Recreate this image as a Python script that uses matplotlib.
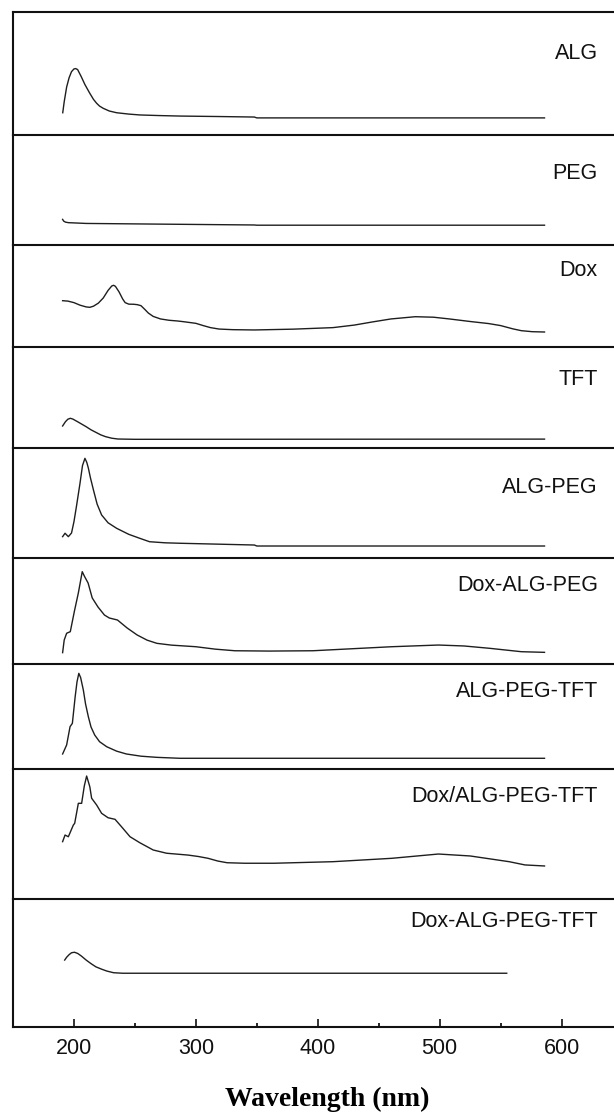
import numpy as np
import matplotlib.pyplot as plt
from matplotlib.ticker import MultipleLocator

plt.rcParams["font.family"] = ["Liberation Sans", "DejaVu Sans"]

# UV-vis spectra; absorbance given in panel units (0 = panel bottom, 1 = panel top)
alg_wl = [190.8, 192, 194, 196, 198, 200, 201.4, 203, 206, 209, 213, 216, 218.6, 221, 224,
          229, 235, 245, 254, 270, 287, 320, 348, 350, 586]
alg_abs = [0.181, 0.27, 0.39, 0.465, 0.515, 0.537, 0.54, 0.532, 0.474, 0.41, 0.339, 0.29,
           0.258, 0.235, 0.217, 0.195, 0.181, 0.17, 0.163, 0.158, 0.154, 0.15, 0.146, 0.139,
           0.139]

peg_wl = [190.7, 191.5, 193, 195.5, 210, 268, 348, 350, 586]
peg_abs = [0.233, 0.218, 0.208, 0.203, 0.196, 0.19, 0.182, 0.18, 0.18]

dox_wl = [190.7, 195, 200, 205, 210, 213, 216, 220, 224, 228, 231, 232.5, 234, 237, 240,
          242, 245, 249, 252, 255, 258, 261, 265, 271, 278, 285, 290, 295, 300, 306, 312,
          319, 330, 348, 380, 412.5, 430, 444.5, 460, 480, 495, 508, 525, 540, 550, 560,
          567, 576, 586]
dox_abs = [0.454, 0.45, 0.435, 0.41, 0.393, 0.389, 0.4, 0.43, 0.48, 0.555, 0.598, 0.605,
           0.595, 0.54, 0.47, 0.435, 0.42, 0.419, 0.415, 0.405, 0.37, 0.333, 0.3, 0.275,
           0.262, 0.255, 0.248, 0.24, 0.232, 0.21, 0.19, 0.176, 0.17, 0.167, 0.175, 0.19,
           0.215, 0.245, 0.275, 0.297, 0.292, 0.275, 0.25, 0.23, 0.21, 0.178, 0.16, 0.15,
           0.147]

tft_wl = [190.7, 193, 195, 197, 199, 203, 207, 210, 214, 218, 222, 226, 231, 236, 250, 586]
tft_abs = [0.218, 0.26, 0.285, 0.294, 0.287, 0.26, 0.232, 0.211, 0.18, 0.155, 0.13, 0.112,
           0.097, 0.089, 0.086, 0.088]

algpeg_wl = [190.7, 192.7, 195.4, 198, 200, 202, 205, 207, 209, 210.5, 211.8, 213.5, 216,
             219, 222.7, 228, 235, 245, 254, 262, 275, 287, 348, 350, 586]
algpeg_abs = [0.194, 0.225, 0.194, 0.227, 0.33, 0.466, 0.682, 0.84, 0.906, 0.87, 0.818,
              0.73, 0.618, 0.49, 0.391, 0.32, 0.27, 0.215, 0.179, 0.148, 0.138, 0.134,
              0.118, 0.109, 0.109]

doxalgpeg_wl = [190.7, 192, 194, 197, 200.4, 203.6, 206.8, 208.5, 211.6, 215, 219.7, 225,
                229, 235.7, 243.6, 251.8, 260, 268, 280, 300, 316, 332, 360, 396, 430,
                460.7, 499, 520, 541, 567, 586]
doxalgpeg_abs = [0.107, 0.226, 0.29, 0.305, 0.5, 0.67, 0.871, 0.83, 0.764, 0.623, 0.538,
                 0.462, 0.434, 0.415, 0.34, 0.274, 0.225, 0.195, 0.178, 0.163, 0.14, 0.125,
                 0.122, 0.125, 0.145, 0.163, 0.179, 0.17, 0.148, 0.116, 0.11]

algpegtft_wl = [190.7, 194, 196.8, 198.7, 201, 202.5, 204, 205.5, 207.7, 209.5, 211.8,
                214, 217, 221, 226.9, 235, 243, 255, 268, 287, 586]
algpegtft_abs = [0.143, 0.229, 0.403, 0.435, 0.689, 0.83, 0.911, 0.87, 0.752, 0.62, 0.498,
                 0.4, 0.324, 0.26, 0.212, 0.17, 0.143, 0.122, 0.111, 0.102, 0.102]

doxtft_wl = [190.7, 192.7, 195.4, 199.5, 200.6, 203.6, 206.3, 208.5, 210.4, 213, 214.5,
             218.6, 222.7, 228, 233.7, 239, 246, 254, 265, 276, 293.5, 302, 310, 318,
             325.6, 340, 364, 412.5, 460.7, 499, 525, 557, 570, 586]
doxtft_abs = [0.441, 0.492, 0.479, 0.569, 0.582, 0.736, 0.736, 0.87, 0.946, 0.864, 0.775,
              0.723, 0.659, 0.625, 0.613, 0.556, 0.479, 0.433, 0.377, 0.352, 0.338, 0.327,
              0.313, 0.292, 0.279, 0.275, 0.275, 0.287, 0.313, 0.346, 0.331, 0.287, 0.262,
              0.254]

doxalgpegtft_wl = [192.4, 194, 196, 198, 200.4, 203, 206, 210, 214, 218, 222.9, 227, 232.5,
                   240, 300, 555]
doxalgpegtft_abs = [0.523, 0.545, 0.565, 0.58, 0.584, 0.575, 0.555, 0.523, 0.495, 0.47,
                    0.451, 0.437, 0.424, 0.42, 0.42, 0.42]

names = ["ALG", "PEG", "Dox", "TFT", "ALG-PEG", "Dox-ALG-PEG", "ALG-PEG-TFT",
         "Dox/ALG-PEG-TFT", "Dox-ALG-PEG-TFT"]
spectra = [
    (alg_wl, alg_abs),
    (peg_wl, peg_abs),
    (dox_wl, dox_abs),
    (tft_wl, tft_abs),
    (algpeg_wl, algpeg_abs),
    (doxalgpeg_wl, doxalgpeg_abs),
    (algpegtft_wl, algpegtft_abs),
    (doxtft_wl, doxtft_abs),
    (doxalgpegtft_wl, doxalgpegtft_abs),
]

# layout (pixels of the 614x1112 figure)
W, H = 614, 1112
edges = [12, 135, 245, 347, 448, 558, 664, 769, 899, 1027]
label_y = [0.664, 0.652, 0.748, 0.68, 0.643, 0.745, 0.736, 0.787, 0.823]
left = 13 / W

fig = plt.figure(figsize=(W / 100, H / 100), dpi=100)

for i, (name, (wl, ab)) in enumerate(zip(names, spectra)):
    bottom = 1 - edges[i + 1] / H
    height = (edges[i + 1] - edges[i]) / H
    ax = fig.add_axes([left, bottom, 1.0 - left, height])
    ax.patch.set_visible(False)  # keep the shared boundary lines at full width
    ax.plot(wl, ab, color="#1e1e1e", lw=1.0, solid_joinstyle="round")
    ax.set_xlim(150, 643)
    ax.set_ylim(0, 1)
    ax.set_yticks([])
    ax.spines["right"].set_visible(False)
    ax.spines["top"].set_visible(i == 0)
    for side in ["left", "top", "bottom"]:
        ax.spines[side].set_linewidth(1.5)
        ax.spines[side].set_color("#111111")
    ax.text(0.973, label_y[i], name, transform=ax.transAxes, ha="right", va="center",
            fontsize=15.5, color="#111111")

    if i == len(names) - 1:
        ax.xaxis.set_major_locator(MultipleLocator(100))
        ax.xaxis.set_minor_locator(MultipleLocator(50))
        ax.tick_params(axis="x", which="major", direction="in", length=6, width=1.2,
                       labelsize=15.5, pad=8, colors="#111111")
        ax.tick_params(axis="x", which="minor", direction="in", length=3, width=1.2)
    else:
        ax.set_xticks([])

fig.text(327 / W, 1 - 1099 / H, "Wavelength (nm)", ha="center", va="center",
         fontsize=20, fontweight="bold", family=["Liberation Serif", "DejaVu Serif"])

fig.savefig("out.png", dpi=100)
